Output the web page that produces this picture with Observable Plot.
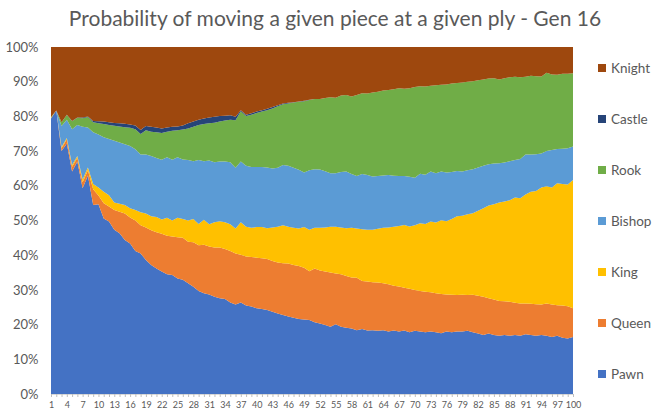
<!DOCTYPE html>
<html>
<head>
<meta charset="utf-8">
<script src="https://cdn.jsdelivr.net/npm/d3@7"></script>
<script src="https://cdn.jsdelivr.net/npm/@observablehq/plot@0.6"></script>
<style>
  body { margin: 0; background: #fff; }
  #chart { position: relative; width: 666px; height: 420px; font-family: Lato, "Open Sans", sans-serif; color: #595959; }
  #chart svg { position: absolute; left: 0; top: 0; }
  #title { position: absolute; left: 0; top: 3px; width: 670px; text-align: center; font-size: 21px; line-height: 30px; }
  .item { position: absolute; left: 598px; height: 16px; display: flex; align-items: center; font-size: 13.5px; white-space: nowrap; }
  .sw { width: 8px; height: 8px; margin-right: 5px; }
</style>
</head>
<body>
<div id="chart">
  <div id="title">Probability of moving a given piece at a given ply - Gen 16</div>
</div>
<script>
// Ply numbers (x categories) and the labelled ticks
const plies = d3.range(1, 101);
const plyTickLabels = d3.range(1, 101, 3);
const percentTicks = [0, 0.1, 0.2, 0.3, 0.4, 0.5, 0.6, 0.7, 0.8, 0.9, 1];

// Pieces, bottom of the stack first
const pieces = ["Pawn", "Queen", "King", "Bishop", "Rook", "Castle", "Knight"];
const pieceColors = ["#4472C4", "#ED7D31", "#FFC000", "#5B9BD5", "#70AD47", "#264478", "#9E480E"];

// Share of moves (%) for each piece at plies 1..100
const pawn = [79.4,81.7,70.0,72.2,64.1,67.0,59.3,63.0,54.5,54.7, 50.6,49.7,47.3,46.3,44.4,43.4,41.2,40.5,38.6,37.2,
  36.2,35.3,34.5,34.3,33.3,32.9,31.9,30.9,29.7,29.0, 28.7,28.0,27.6,27.4,26.4,25.8,26.4,25.5,25.2,24.7,
  24.5,24.2,23.7,23.2,22.8,22.3,22.0,21.6,21.5,21.3, 20.7,20.3,19.9,19.4,20.1,19.4,19.1,18.9,18.4,18.7,
  18.3,18.4,18.2,18.4,18.0,18.3,18.0,18.3,17.8,18.2, 18.0,17.8,18.0,17.8,17.5,18.0,17.8,18.0,18.0,18.2,
  17.8,17.4,17.0,17.4,17.0,16.8,17.0,16.8,17.0,16.8, 17.2,17.0,16.8,17.0,16.8,16.4,16.8,16.2,16.0,16.4];
const queen = [0.1,0,0.8,1.2,1.4,1.1,1.7,1.5,4.5,2.5, 4.4,4.3,5.7,6.2,7.6,7.5,8.8,8.1,9.4,10.0,
  10.4,10.9,11.1,11.1,11.9,12.1,12.0,12.8,13.2,14.0, 13.8,14.2,14.6,14.4,14.8,14.7,13.7,14.1,14.3,14.6,
  14.6,14.7,14.6,14.7,14.9,15.3,15.2,15.3,14.9,14.1, 15.5,15.3,15.4,15.6,14.6,15.1,14.9,14.7,15.1,13.9,
  14.1,13.8,13.9,13.5,13.6,12.9,13.0,12.3,12.5,11.8, 11.7,11.7,11.3,11.2,11.3,10.7,10.8,10.5,10.6,10.3,
  10.8,10.9,11.0,10.2,10.2,10.0,9.7,9.8,9.3,9.3, 8.9,9.0,9.1,8.8,9.3,9.4,8.8,9.3,9.3,8.3];
const king = [0.1,0,0.4,0.4,0.5,0.5,0.8,0.8,1.5,2.3, 3.3,3.3,2.2,2.3,2.5,2.6,3.0,3.8,4.0,4.0,
  4.4,4.1,5.2,4.6,5.6,5.4,6.1,6.7,6.1,7.2, 6.4,7.3,7.6,7.7,7.7,7.2,9.4,8.6,8.4,8.8,
  9.0,8.9,9.7,10.3,10.9,10.6,10.7,10.8,11.7,11.9, 11.7,12.3,12.7,13.2,13.5,13.5,13.8,14.3,14.2,14.9,
  14.9,15.1,15.5,16.0,16.4,17.0,17.4,18.1,18.0,18.6, 19.5,19.5,20.4,20.4,21.3,21.1,21.8,22.7,22.8,23.3,
  23.5,24.5,25.5,26.7,27.5,28.4,28.8,29.2,30.3,30.3, 31.4,32.3,32.6,33.7,33.8,33.7,35.1,35.0,35.1,37.0];
const bishop = [0,0,6.0,5.2,10.3,8.9,15.2,11.5,14.9,15.3, 15.7,16.2,17.8,17.7,17.5,18.0,17.5,16.6,17.0,17.4,
  17.0,17.2,17.4,17.5,17.4,17.2,17.4,16.7,18.4,16.9, 18.4,17.3,17.2,17.5,17.9,17.5,17.5,17.6,17.5,17.3,
  17.3,17.5,17.0,17.0,17.4,17.6,17.3,16.9,15.7,17.2, 16.9,16.8,16.2,15.4,15.4,16.0,16.3,15.5,15.1,15.9,
  15.8,15.4,15.2,15.1,15.1,14.7,14.4,14.1,14.3,13.7, 14.3,14.2,14.4,14.2,14.0,14.0,13.6,13.1,12.7,12.7,
  12.7,12.5,12.3,11.9,11.7,11.3,11.2,11.3,10.8,11.3, 11.5,10.7,10.6,9.8,10.1,10.8,9.9,10.2,10.4,9.6];
const rook = [0.2,0,1.1,1.4,2.3,2.1,2.5,3.0,2.9,3.2, 3.8,4.0,4.3,4.6,4.9,5.2,5.8,5.9,7.0,7.0,
  7.4,7.7,7.4,8.4,7.8,8.6,9.1,9.9,10.1,10.7, 10.7,11.4,11.5,11.8,12.2,13.7,14.5,14.3,15.1,15.6,
  16.0,16.5,17.3,17.7,17.5,17.9,18.8,19.6,20.6,20.2, 20.2,20.3,21.1,21.9,21.8,22.0,22.1,22.3,23.4,23.3,
  23.5,24.2,24.3,24.5,24.5,24.9,25.3,25.2,25.5,26.2, 25.2,25.4,24.7,25.4,25.0,25.4,25.5,25.3,25.7,25.5,
  25.3,25.1,24.8,24.7,24.6,24.1,24.3,24.2,24.0,23.6, 22.4,22.7,22.5,22.2,22.6,21.8,21.4,21.6,21.5,21.1];
const castle = [0,0,0,0.1,0.1,0.1,0.2,0.2,0.4,0.6, 0.7,0.8,0.8,0.9,1.0,1.0,1.1,1.2,1.2,1.4,
  1.4,1.3,1.2,1.1,1.1,1.2,1.5,1.5,1.5,1.6, 1.7,1.7,1.6,1.4,1.3,1.0,0.3,0.4,0.4,0.4,
  0.4,0.4,0.4,0.3,0.2,0.2,0.1,0.1,0.1,0.1, 0,0,0,0,0,0,0,0,0,0,
  0,0,0,0,0,0,0,0,0,0, 0,0,0,0,0,0,0,0,0,0,
  0,0,0,0,0,0,0,0,0,0, 0,0,0,0,0,0,0,0,0,0];
const knight = [20.2,18.3,21.7,19.5,21.3,20.3,20.3,20.0,21.3,21.4, 21.5,21.7,21.9,22.0,22.1,22.3,22.6,23.9,22.8,23.0,
  23.2,23.5,23.2,23.0,22.9,22.6,22.0,21.5,21.0,20.6, 20.3,20.1,19.9,19.8,19.7,20.1,18.2,19.5,19.1,18.6,
  18.2,17.8,17.3,16.8,16.3,16.1,15.9,15.7,15.5,15.2, 15.0,15.0,14.7,14.5,14.6,14.0,13.8,14.3,13.8,13.3,
  13.4,13.1,12.9,12.5,12.4,12.2,11.9,12.0,11.9,11.5, 11.3,11.4,11.2,11.0,10.9,10.8,10.5,10.4,10.2,10.0,
  9.9,9.6,9.4,9.1,9.0,9.4,9.0,8.7,8.6,8.7, 8.6,8.3,8.4,8.5,7.4,7.9,8.0,7.7,7.7,7.6];

const seriesValues = [pawn, queen, king, bishop, rook, castle, knight];

// Long table: one row per piece and ply
const rows = pieces.flatMap((piece, k) =>
  plies.map((ply, j) => ({ply, piece, share: seriesValues[k][j]}))
);

const chart = Plot.plot({
  width: 666,
  height: 420,
  marginLeft: 51,
  marginRight: 93,
  marginTop: 47,
  marginBottom: 26,
  style: {fontFamily: "Lato, 'Open Sans', sans-serif", color: "#595959", background: "transparent", overflow: "visible"},
  x: {domain: [1, 100], label: null},
  y: {domain: [0, 1], label: null},
  color: {domain: pieces, range: pieceColors},
  marks: [
    Plot.gridY(percentTicks, {stroke: "#d9d9d9", strokeOpacity: 1}),
    Plot.areaY(rows, {x: "ply", y: "share", fill: "piece", z: "piece", offset: "normalize", order: pieces}),
    Plot.ruleY([0], {stroke: "#d9d9d9"}),
    Plot.axisX({
      ticks: plies,
      label: null,
      tickSize: 3,
      tickPadding: 4,
      stroke: "#bfbfbf",
      fill: "#595959",
      fontSize: 9,
      tickFormat: d => plyTickLabels.includes(d) ? String(d) : ""
    }),
    Plot.axisY({
      ticks: percentTicks,
      label: null,
      tickSize: 0,
      tickPadding: 13,
      fontSize: 13,
      fill: "#595959",
      tickFormat: d3.format(".0%")
    })
  ]
});

const root = document.getElementById("chart");
root.appendChild(chart);

// Legend, top entry is the top of the stack
pieces.slice().reverse().forEach((piece, k) => {
  const color = pieceColors[pieces.indexOf(piece)];
  const item = document.createElement("div");
  item.className = "item";
  item.style.top = (60 + k * 51) + "px";
  item.innerHTML = `<span class="sw" style="background:${color}"></span><span>${piece}</span>`;
  root.appendChild(item);
});
</script>
</body>
</html>
